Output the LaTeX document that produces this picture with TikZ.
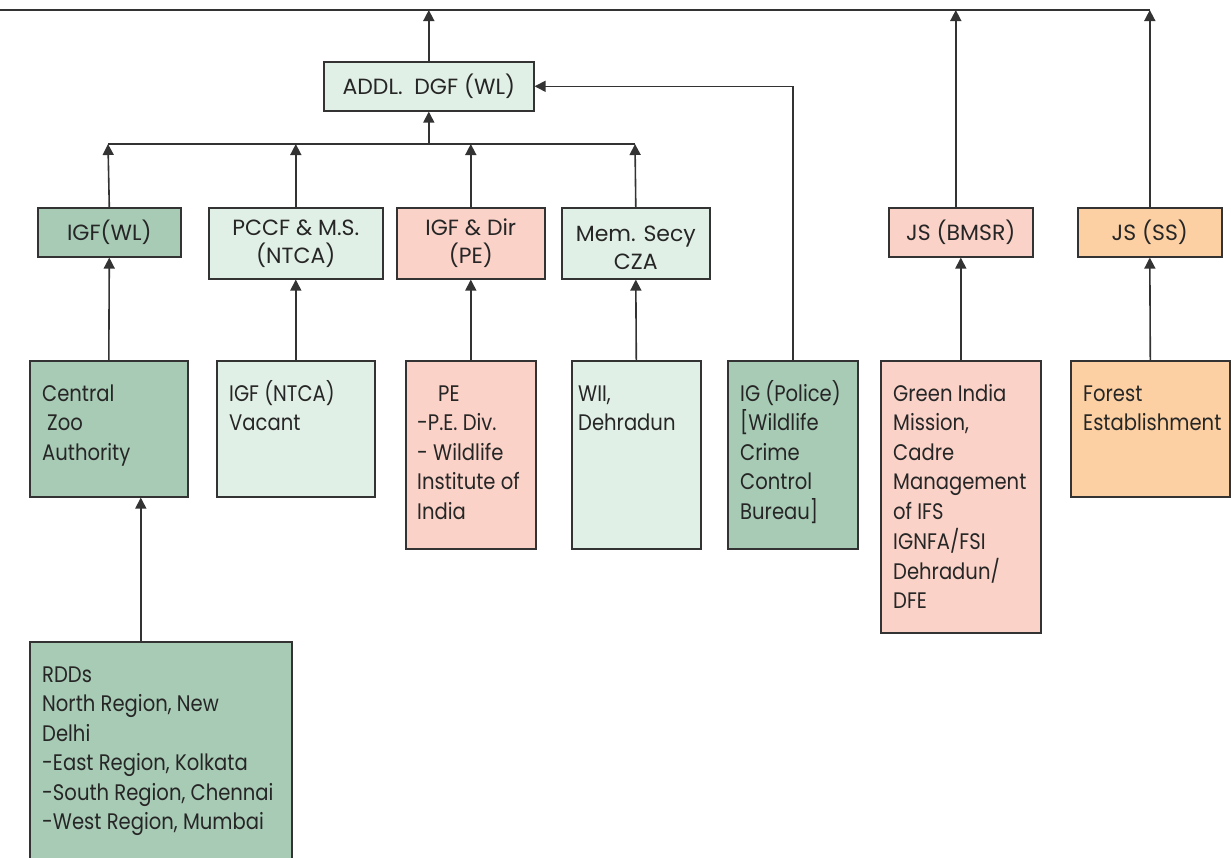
\documentclass[tikz,border=0pt]{standalone}
\usepackage{fontspec}
\setmainfont{Poppins}
\newfontfamily\narrowfont[FakeStretch=0.87]{Poppins}
\usetikzlibrary{arrows.meta}
\definecolor{dkg}{HTML}{A8CBB5}
\definecolor{ltg}{HTML}{E1F0E6}
\definecolor{pnk}{HTML}{FAD2C8}
\definecolor{org}{HTML}{FCD0A3}
\definecolor{lncol}{HTML}{333333}
\newcommand\fs{\narrowfont\fontsize{22.5}{29.5}\selectfont}
\newcommand\tl[1]{\begin{tabular}[t]{@{}l@{}}#1\end{tabular}}
\begin{document}
\begin{tikzpicture}[x=1pt,y=-1pt,
 box/.style={draw=lncol, line width=1.6pt, inner sep=0pt, anchor=north west},
 txt/.style={anchor=base west, inner sep=0pt, font=\fs, text=black!85},
 ctxt/.style={align=center, inner sep=0pt, font=\fontsize{22}{28}\selectfont, text=black!85},
 arr/.style={draw=lncol, line width=1.6pt, -{Triangle[length=11pt,width=11pt]}},
 conn/.style={draw=lncol, line width=1.6pt}]
\useasboundingbox (0,0) rectangle (1231,857);
\clip (0,0) rectangle (1231,857);
% top level
\node[box, fill=ltg, minimum width=210pt, minimum height=49pt] (addl) at (323,61) {};
\node[ctxt] (taddl) at (addl.center) {ADDL.\ \ DGF (WL)};
% row 2
\node[box, fill=dkg, minimum width=143pt, minimum height=49pt] (igfwl) at (37,207) {};
\node[ctxt] (tigfwl) at (igfwl.center) {IGF(WL)};
\node[box, fill=ltg, minimum width=174pt, minimum height=71pt] (pccf) at (208,207) {};
\node[ctxt] (tpccf) at (pccf.center) {PCCF \& M.S.\\(NTCA)};
\node[box, fill=pnk, minimum width=148pt, minimum height=71pt] (igfdir) at (396,207) {};
\node[ctxt] (tigfdir) at (igfdir.center) {IGF \& Dir\\(PE)};
\node[box, fill=ltg, minimum width=148pt, minimum height=71pt] (mem) at (561,207) {};
\node[ctxt] (tmem) at ([yshift=-4pt]mem.center) {Mem. Secy\\CZA};
\node[box, fill=pnk, minimum width=144pt, minimum height=49pt] (bmsr) at (888,207) {};
\node[ctxt] (tbmsr) at (bmsr.center) {JS (BMSR)};
\node[box, fill=org, minimum width=144pt, minimum height=49pt] (jsss) at (1077,207) {};
\node[ctxt] (tjsss) at (jsss.center) {JS (SS)};
% row 3
\node[box, fill=dkg, minimum width=158pt, minimum height=136pt] (cz) at (29,360) {};
\node[txt] (tcz) at (42,401) {\tl{Central\\\hspace*{5pt}Zoo\\Authority}};
\node[box, fill=ltg, minimum width=158pt, minimum height=136pt] (ntca) at (216,360) {};
\node[txt] (tntca) at (229,401) {\tl{IGF (NTCA)\\Vacant}};
\node[box, fill=pnk, minimum width=130pt, minimum height=188pt] (pe) at (405,360) {};
\node[txt] (tpe) at (417,401) {\tl{\hspace*{21pt}PE\\-P.E. Div.\\- Wildlife\\Institute of\\India}};
\node[box, fill=ltg, minimum width=129pt, minimum height=188pt] (wii) at (571,360) {};
\node[txt] (twii) at (578,401) {\tl{WII,\\Dehradun}};
\node[box, fill=dkg, minimum width=130pt, minimum height=188pt] (igp) at (727,360) {};
\node[txt] (tigp) at (740,401) {\tl{IG (Police)\\{[}Wildlife\\Crime\\Control\\Bureau{]}}};
\node[box, fill=pnk, minimum width=160pt, minimum height=272pt] (green) at (880,360) {};
\node[txt] (tgreen) at (893,401) {\tl{Green India\\Mission,\\Cadre\\Management\\of IFS\\IGNFA/FSI\\Dehradun/\\DFE}};
\node[box, fill=org, minimum width=159pt, minimum height=136pt] (forest) at (1070,360) {};
\node[txt] (tforest) at (1083,401) {\tl{Forest\\Establishment}};
% row 4
\node[box, fill=dkg, minimum width=262pt, minimum height=240pt] (rdd) at (29,641) {};
\node[txt] (trdd) at (42,682) {\tl{RDDs\\North Region, New\\Delhi\\-East Region, Kolkata\\-South Region, Chennai\\-West Region, Mumbai}};
% connectors
\coordinate (tl) at (0,10);
\coordinate (tr) at (1150,10);
\coordinate (hl) at (108,144);
\coordinate (hr) at (635,144);
\draw[conn] (tl) -- (tr);
\draw[conn] (hl) -- (hr);
\draw[arr] (addl.north) -- (addl.north |- tl);
\draw[arr] ([xshift=-5pt]bmsr.north) -- ([xshift=-5pt]bmsr.north |- tl);
\draw[arr] (jsss.north) -- (jsss.north |- tl);
\draw[arr] (addl.south |- hl) -- (addl.south);
\draw[arr] (igfwl.north) -- (hl);
\draw[arr] (pccf.north) -- (pccf.north |- hl);
\draw[arr] (igfdir.north) -- (igfdir.north |- hl);
\draw[arr] (mem.north) -- (hr);
\draw[arr] (igp.north) |- (addl.east);
\draw[arr] (cz.north) -- (igfwl.south);
\draw[arr] (ntca.north) -- (pccf.south);
\draw[arr] (pe.north) -- (igfdir.south);
\draw[arr] (wii.north) -- (mem.south);
\draw[arr] (green.north) -- (bmsr.south);
\draw[arr] (forest.north) -- (jsss.south);
\draw[arr] ([xshift=-20pt]rdd.north) -- ([xshift=-20pt]rdd.north |- cz.south);
\end{tikzpicture}
\end{document}
